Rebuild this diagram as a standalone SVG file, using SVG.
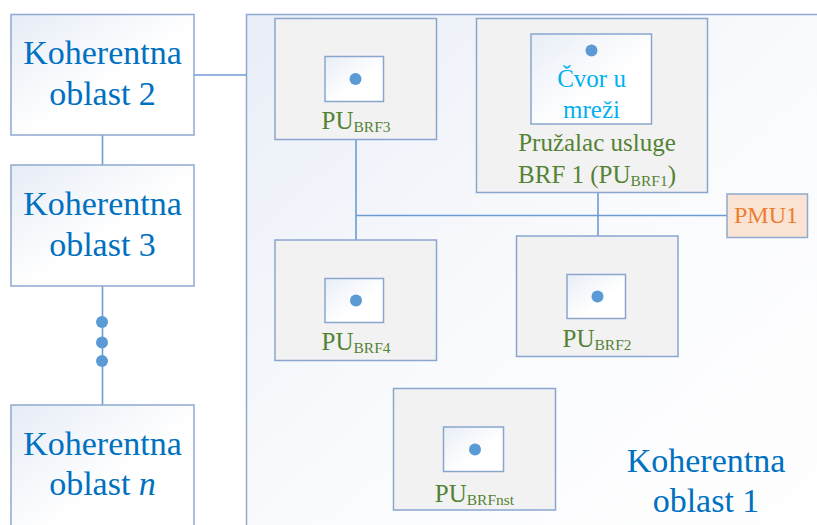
<svg xmlns="http://www.w3.org/2000/svg" width="817" height="525" viewBox="0 0 817 525">
<defs>
<linearGradient id="gBlue" x1="0" y1="0" x2="1" y2="1">
<stop offset="0" stop-color="#E6ECF6"/>
<stop offset="0.55" stop-color="#FFFFFF"/>
<stop offset="1" stop-color="#FFFFFF"/>
</linearGradient>
<linearGradient id="gRegion" x1="0" y1="0" x2="1" y2="1">
<stop offset="0" stop-color="#E9EEF7"/>
<stop offset="0.5" stop-color="#FAFBFD"/>
<stop offset="1" stop-color="#FFFFFF"/>
</linearGradient>
<linearGradient id="gInner" x1="0" y1="0" x2="1" y2="1">
<stop offset="0" stop-color="#E8EEF7"/>
<stop offset="0.6" stop-color="#FFFFFF"/>
</linearGradient>
</defs>
<style>
.area{fill:url(#gBlue);stroke:#8FA9D1;stroke-width:1.5}
.region{fill:url(#gRegion);stroke:#8FA9D1;stroke-width:1.5}
.pu{fill:#F2F2F2;stroke:#8AA6CF;stroke-width:1.5}
.inner{fill:url(#gInner);stroke:#8AA6CF;stroke-width:1.5}
.dot{fill:#5B9BD5}
.link{stroke:#6E9BD3;stroke-width:1.6;fill:none}
text{font-family:'Liberation Serif','Times New Roman','DejaVu Serif',serif}
.blue{font-size:34px;fill:#0070C0;text-anchor:middle}
.green{font-size:25px;fill:#548235;text-anchor:middle}
.sub{font-size:15.5px}
.cyan{font-size:25px;fill:#00B0F0;text-anchor:middle}
.pmu{fill:#FBE3D3;stroke:#8FA9D1;stroke-width:1.5}
.orange{font-size:24px;fill:#ED7D31;text-anchor:middle}
</style>

<g id="oblast1">
<rect class="region" x="246.5" y="14.5" width="620" height="560"/>
<text class="blue" x="706" y="472">Koherentna</text>
<text class="blue" x="706" y="512">oblast 1</text>
</g>

<g id="connectors">
<line class="link" x1="194" y1="75" x2="246" y2="75"/>
<line class="link" x1="102.5" y1="135" x2="102.5" y2="165"/>
<line class="link" x1="102.5" y1="286" x2="102.5" y2="405"/>
<line class="link" x1="356" y1="139" x2="356" y2="240"/>
<line class="link" x1="356" y1="215.5" x2="727" y2="215.5"/>
<line class="link" x1="598" y1="192" x2="598" y2="236"/>
<circle class="dot" cx="102" cy="322" r="6"/>
<circle class="dot" cx="102" cy="342.5" r="6"/>
<circle class="dot" cx="102" cy="361" r="6"/>
</g>

<g id="oblast2">
<rect class="area" x="11" y="14.5" width="183" height="120.5"/>
<text class="blue" x="102.5" y="64">Koherentna</text>
<text class="blue" x="102.5" y="105">oblast 2</text>
</g>

<g id="oblast3">
<rect class="area" x="11" y="165" width="183" height="121"/>
<text class="blue" x="102.5" y="215">Koherentna</text>
<text class="blue" x="102.5" y="256">oblast 3</text>
</g>

<g id="oblastn">
<rect class="area" x="11" y="405" width="183" height="140"/>
<text class="blue" x="102.5" y="455">Koherentna</text>
<text class="blue" x="102.5" y="495">oblast <tspan font-style="italic">n</tspan></text>
</g>

<g id="pubrf3">
<rect class="pu" x="275" y="18.5" width="161.5" height="121"/>
<rect class="inner" x="325" y="56.5" width="58.5" height="45"/>
<circle class="dot" cx="355.5" cy="79" r="6"/>
<text class="green" x="356" y="129">PU<tspan class="sub" dy="3">BRF3</tspan></text>
</g>

<g id="pubrf1">
<rect class="pu" x="476.5" y="18.5" width="231" height="174"/>
<rect class="inner" x="531" y="34" width="120.5" height="90"/>
<circle class="dot" cx="591.5" cy="50.5" r="6"/>
<text class="cyan" x="591.5" y="87">Čvor u</text>
<text class="cyan" x="591.5" y="118">mreži</text>
<text class="green" x="597" y="151">Pružalac usluge</text>
<text class="green" x="597" y="182.5">BRF 1 (PU<tspan class="sub" dy="3">BRF1</tspan><tspan dy="-3">)</tspan></text>
</g>

<g id="pmu1">
<rect class="pmu" x="727" y="194" width="80.5" height="43.5"/>
<text class="orange" x="766" y="223">PMU1</text>
</g>

<g id="pubrf4">
<rect class="pu" x="275" y="240" width="161.5" height="120.5"/>
<rect class="inner" x="325" y="278.5" width="58.5" height="44"/>
<circle class="dot" cx="356" cy="300.5" r="6"/>
<text class="green" x="356" y="350">PU<tspan class="sub" dy="3">BRF4</tspan></text>
</g>

<g id="pubrf2">
<rect class="pu" x="516.5" y="236" width="161.5" height="120.5"/>
<rect class="inner" x="567" y="274.5" width="58.5" height="44"/>
<circle class="dot" cx="597.5" cy="296.5" r="6"/>
<text class="green" x="597" y="346.5">PU<tspan class="sub" dy="3">BRF2</tspan></text>
</g>

<g id="pubrfnst">
<rect class="pu" x="393.5" y="388.5" width="162" height="121.5"/>
<rect class="inner" x="443.5" y="427" width="60" height="44.5"/>
<circle class="dot" cx="475" cy="449.5" r="6"/>
<text class="green" x="474.5" y="501.5">PU<tspan class="sub" dy="3">BRFnst</tspan></text>
</g>
</svg>
